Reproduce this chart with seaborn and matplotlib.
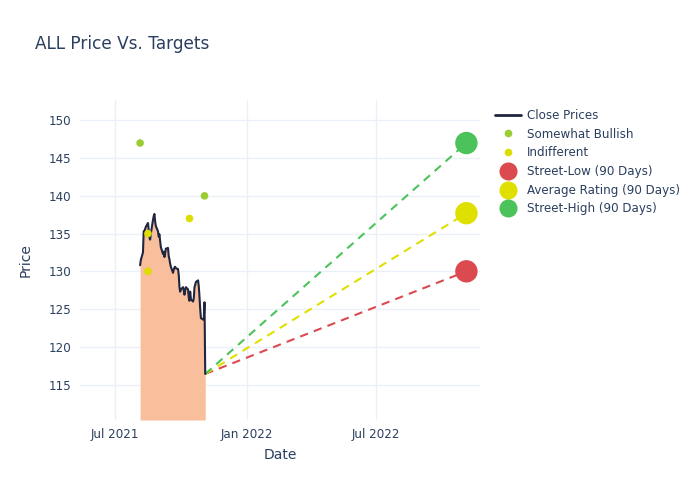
import numpy as np
import pandas as pd
import matplotlib
matplotlib.use("Agg")
import matplotlib.pyplot as plt
import matplotlib.dates as mdates
from matplotlib.lines import Line2D
import seaborn as sns

# === Data ===
close_prices = [
    130.8, 131.5, 132.5, 135.3, 135.2, 135.6, 135.9, 136.4, 135.5, 134.5,
    134.2, 135.0, 136.8, 137.3, 137.6, 136.6, 136.0, 135.3, 134.6, 134.9,
    134.0, 133.2, 132.3, 132.6, 131.9, 132.4, 133.0, 133.1, 132.0, 131.6,
    131.0, 130.6, 129.8, 130.2, 130.5, 130.6, 130.4, 130.3, 129.5, 127.9,
    127.3, 127.6, 127.9, 127.5, 126.9, 127.5, 127.9, 127.6, 126.5, 126.1,
    127.3, 126.3, 126.0, 126.4, 127.9, 128.2, 128.6, 128.8, 128.0, 126.6,
    125.0, 123.8, 123.6, 123.7, 125.9, 116.4,
]
price_dates = pd.bdate_range("2021-08-05", periods=len(close_prices))

bullish_dates = pd.to_datetime(["2021-08-05", "2021-11-03"])
bullish_targets = [147, 140]
indifferent_dates = pd.to_datetime(["2021-08-16", "2021-08-16", "2021-10-13"])
indifferent_targets = [135, 130, 137]

target_labels = ["Street-Low (90 Days)", "Average Rating (90 Days)", "Street-High (90 Days)"]
target_values = [130, 137.7, 147]
target_date = pd.Timestamp("2022-11-04")

colors_targets = ["#DB4A4F", "#E0E000", "#4CC35A"]
fill_color = "#F9BE9B"
line_color = "#1F2640"
text_color = "#2A3F5F"
grid_color = "#EBF0F8"

# === Style ===
sns.set_theme(style="whitegrid", rc={
    "grid.color": grid_color,
    "grid.linewidth": 1.0,
    "axes.edgecolor": "white",
    "text.color": text_color,
    "axes.labelcolor": text_color,
    "xtick.color": text_color,
    "ytick.color": text_color,
})
plt.rcParams["font.family"] = ["DejaVu Sans"]

fig = plt.figure(figsize=(7, 5), dpi=100)
ax = fig.add_axes([80 / 700, 80 / 500, 400 / 700, 320 / 500])

df = pd.DataFrame({"Date": price_dates, "Price": close_prices})
ymin, ymax = 110.3, 152.7

ax.fill_between(df["Date"], ymin, df["Price"], color=fill_color, linewidth=0, zorder=1)
sns.lineplot(data=df, x="Date", y="Price", color=line_color, linewidth=1.5, ax=ax, zorder=3)

# dashed projections from last close
last_date, last_price = price_dates[-1], close_prices[-1]
for val, col in zip(target_values, colors_targets):
    ax.plot([last_date, target_date], [last_price, val], linestyle=(0, (4, 3)),
            color=col, linewidth=1.5, zorder=2)

sns.scatterplot(x=bullish_dates, y=bullish_targets, color="#9ACD32", s=30,
                edgecolor="none", ax=ax, zorder=4)
sns.scatterplot(x=indifferent_dates, y=indifferent_targets, color="#DDDD00", s=30,
                edgecolor="none", ax=ax, zorder=4)
sns.scatterplot(x=[target_date] * 3, y=target_values, hue=target_labels,
                palette=colors_targets, s=260, edgecolor="none", ax=ax,
                legend=False, zorder=5)

ax.set_ylim(ymin, ymax)
ax.set_xlim(pd.Timestamp("2021-05-13"), pd.Timestamp("2022-11-23"))
ax.set_yticks(np.arange(115, 151, 5))
ax.xaxis.set_major_locator(mdates.MonthLocator(bymonth=[1, 7]))
ax.xaxis.set_major_formatter(mdates.DateFormatter("%b %Y"))
ax.tick_params(axis="both", length=0, labelsize=8.6, pad=6)
ax.set_xlabel("Date", fontsize=10, labelpad=5)
ax.set_ylabel("Price", fontsize=10, labelpad=12)
for s in ax.spines.values():
    s.set_visible(False)

fig.text(35 / 700, 1 - 44 / 500, "ALL Price Vs. Targets", fontsize=12.2,
         color=text_color, va="center", ha="left")

handles = [
    Line2D([0], [0], color=line_color, linewidth=2),
    Line2D([0], [0], marker="o", linestyle="", color="#9ACD32", markersize=4.5),
    Line2D([0], [0], marker="o", linestyle="", color="#DDDD00", markersize=4.5),
]
for col in colors_targets:
    handles.append(Line2D([0], [0], marker="o", linestyle="", color=col, markersize=12))
labels = ["Close Prices", "Somewhat Bullish", "Indifferent"] + target_labels
fig.legend(handles, labels, loc="upper left", bbox_to_anchor=(490 / 700, 1 - 104 / 500),
           frameon=False, fontsize=8.6, handlelength=2.2, labelspacing=0.48,
           borderaxespad=0, handletextpad=0.5, labelcolor=text_color)

fig.savefig("out.png", dpi=100)
